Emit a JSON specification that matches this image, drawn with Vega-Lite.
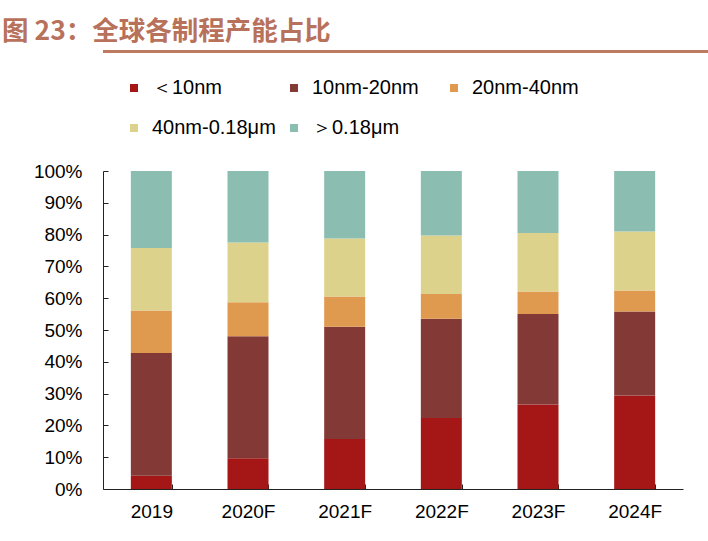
{
  "$schema": "https://vega.github.io/schema/vega-lite/v6.json",
  "background": "white",
  "padding": {"left": 2, "top": 18, "right": 0, "bottom": 0},
  "title": {"text": "图 23：全球各制程产能占比", "anchor": "start", "fontSize": 26.5, "font": "Noto Sans CJK SC", "fontWeight": "bold", "color": "#B8715A", "offset": 5},
  "columns": 1,
  "align": "none",
  "spacing": 109,
  "config": {"view": {"stroke": null}, "font": "Liberation Sans"},
  "concat": [
    {
      "width": 706, "height": 3,
      "view": {"fill": "#BD7B5F", "stroke": null},
      "data": {"values": []},
      "mark": {"type": "rule"},
      "encoding": {}
    },
    {
      "width": 580, "height": 318,
      "data": {"values": [
        {"year": "2019", "node": "＜10nm", "from_nm": 0, "share": 4.2},
        {"year": "2019", "node": "10nm-20nm", "from_nm": 10, "share": 38.6},
        {"year": "2019", "node": "20nm-40nm", "from_nm": 20, "share": 13.3},
        {"year": "2019", "node": "40nm-0.18μm", "from_nm": 40, "share": 19.7},
        {"year": "2019", "node": "＞0.18μm", "from_nm": 180, "share": 24.2},
        {"year": "2020F", "node": "＜10nm", "from_nm": 0, "share": 9.7},
        {"year": "2020F", "node": "10nm-20nm", "from_nm": 10, "share": 38.3},
        {"year": "2020F", "node": "20nm-40nm", "from_nm": 20, "share": 10.7},
        {"year": "2020F", "node": "40nm-0.18μm", "from_nm": 40, "share": 18.8},
        {"year": "2020F", "node": "＞0.18μm", "from_nm": 180, "share": 22.5},
        {"year": "2021F", "node": "＜10nm", "from_nm": 0, "share": 15.7},
        {"year": "2021F", "node": "10nm-20nm", "from_nm": 10, "share": 35.3},
        {"year": "2021F", "node": "20nm-40nm", "from_nm": 20, "share": 9.5},
        {"year": "2021F", "node": "40nm-0.18μm", "from_nm": 40, "share": 18.3},
        {"year": "2021F", "node": "＞0.18μm", "from_nm": 180, "share": 21.2},
        {"year": "2022F", "node": "＜10nm", "from_nm": 0, "share": 22.3},
        {"year": "2022F", "node": "10nm-20nm", "from_nm": 10, "share": 31.2},
        {"year": "2022F", "node": "20nm-40nm", "from_nm": 20, "share": 7.8},
        {"year": "2022F", "node": "40nm-0.18μm", "from_nm": 40, "share": 18.4},
        {"year": "2022F", "node": "＞0.18μm", "from_nm": 180, "share": 20.3},
        {"year": "2023F", "node": "＜10nm", "from_nm": 0, "share": 26.6},
        {"year": "2023F", "node": "10nm-20nm", "from_nm": 10, "share": 28.4},
        {"year": "2023F", "node": "20nm-40nm", "from_nm": 20, "share": 7.1},
        {"year": "2023F", "node": "40nm-0.18μm", "from_nm": 40, "share": 18.4},
        {"year": "2023F", "node": "＞0.18μm", "from_nm": 180, "share": 19.5},
        {"year": "2024F", "node": "＜10nm", "from_nm": 0, "share": 29.4},
        {"year": "2024F", "node": "10nm-20nm", "from_nm": 10, "share": 26.4},
        {"year": "2024F", "node": "20nm-40nm", "from_nm": 20, "share": 6.6},
        {"year": "2024F", "node": "40nm-0.18μm", "from_nm": 40, "share": 18.6},
        {"year": "2024F", "node": "＞0.18μm", "from_nm": 180, "share": 19.0}
      ]},
      "mark": {"type": "bar"},
      "encoding": {
        "x": {
          "field": "year", "type": "nominal", "sort": null,
          "scale": {"paddingInner": 0.576, "paddingOuter": 0.288},
          "axis": {"title": null, "labelAngle": 0, "labelFontSize": 19, "labelColor": "#000", "labelPadding": 18, "tickBand": "extent", "tickSize": -5, "tickColor": "#222", "domainColor": "#222", "grid": false}
        },
        "y": {
          "field": "share", "type": "quantitative", "stack": "normalize",
          "axis": {"title": null, "format": ".0%", "values": [0, 0.1, 0.2, 0.3, 0.4, 0.5, 0.6, 0.7, 0.8, 0.9, 1], "labelFontSize": 19, "labelColor": "#000", "labelPadding": 26, "tickSize": -5, "tickColor": "#222", "domainColor": "#222", "grid": false, "minExtent": 101, "maxExtent": 101}
        },
        "order": {"field": "from_nm", "type": "quantitative", "sort": "ascending"},
        "color": {
          "field": "node", "type": "nominal",
          "sort": ["＜10nm", "10nm-20nm", "20nm-40nm", "40nm-0.18μm", "＞0.18μm"],
          "scale": {"domain": ["＜10nm", "10nm-20nm", "20nm-40nm", "40nm-0.18μm", "＞0.18μm"], "range": ["#A51616", "#833A37", "#E09A50", "#DDD28C", "#8BBEB1"]},
          "legend": {"title": null, "orient": "none", "direction": "horizontal", "legendX": 21, "legendY": 28, "columns": 3, "gridAlign": "all", "symbolType": "square", "symbolSize": 64, "symbolStrokeWidth": 0, "labelFontSize": 20, "labelColor": "#000", "labelOffset": 8, "rowPadding": 20, "columnPadding": 8, "labelLimit": 300}
        }
      }
    }
  ]
}
